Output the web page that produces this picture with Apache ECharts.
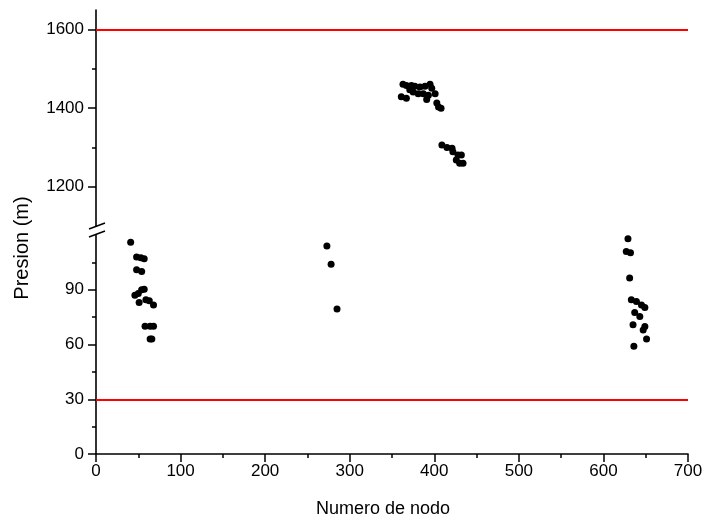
<!DOCTYPE html>
<html>
<head>
<meta charset="utf-8">
<script src="https://cdn.jsdelivr.net/npm/echarts@6/dist/echarts.min.js"></script>
<style>
  html, body { margin: 0; padding: 0; background: #fff; }
  #chart { width: 714px; height: 521px; }
</style>
</head>
<body>
<div id="chart"></div>
<script>
// Node pressures, high-pressure zone (upper panel): [node, pressure m]
const highNodes = [
  [363, 1461], [367, 1458], [373, 1458], [377, 1456], [383, 1454], [389, 1456],
  [395, 1461], [361, 1429], [367, 1425], [371, 1447], [375, 1441], [381, 1437],
  [387, 1437], [393, 1433], [397, 1451], [391, 1422], [401, 1437], [403, 1413],
  [405, 1403], [408, 1400],
  [409, 1306], [415, 1300], [421, 1298], [422, 1289], [428, 1281], [432, 1281],
  [426, 1268], [430, 1260], [434, 1260]
];

// Node pressures, low-pressure zone (lower panel): [node, pressure m]
const lowNodes = [
  [41, 116], [48, 108], [53, 107.5], [57, 107], [48, 101], [54, 100],
  [46, 87], [50, 88], [54, 90], [57, 90.3], [51, 83], [59, 84.5], [63, 84],
  [68, 81.7], [58, 70], [64, 70], [68, 70], [64, 63], [66, 63],
  [273, 114], [278, 104], [285, 79.5],
  [629, 118], [627, 111], [632, 110.3], [631, 96.5], [633, 84.5], [639, 83.5],
  [645, 81.7], [649, 80.3], [637, 77.5], [643, 75.3], [635, 70.8], [649, 69.8],
  [647, 68], [651, 63], [636, 59]
];

// Pressure limits
const maxPressure = 1600;
const minPressure = 30;

// Axis ranges and tick values
const xTicks = { min: 0, max: 700, step: 100 };
const upperRange = { min: 1100, max: 1650 };
const upperLabels = [1200, 1400, 1600];
const upperMinor = [1300, 1500];
const lowerRange = { min: 0, max: 120, step: 30 };
const lowerLabels = [0, 30, 60, 90];

const FONT = '"Liberation Sans", Arial, sans-serif';
const axisLine = { show: true, lineStyle: { color: '#000', width: 1.6 } };
const tickLine = { color: '#000', width: 1.5 };
const plain = (v) => String(v);
const labelStyle = { color: '#000', fontSize: 17, fontFamily: FONT, formatter: plain };

const chart = echarts.init(document.getElementById('chart'), null, { renderer: 'canvas' });

const limitLine = (value) => ({
  silent: true,
  symbol: 'none',
  label: { show: false },
  emphasis: { disabled: true },
  lineStyle: { color: '#ff0000', width: 2, type: 'solid' },
  data: [{ yAxis: value }]
});

chart.setOption({
  animation: false,
  backgroundColor: '#fff',
  grid: [
    { left: 96, right: 26, top: 10, height: 216 },
    { left: 96, right: 26, top: 235, bottom: 67 }
  ],
  xAxis: [
    { gridIndex: 0, type: 'value', min: xTicks.min, max: xTicks.max, interval: xTicks.step, show: false },
    {
      gridIndex: 1, type: 'value', min: xTicks.min, max: xTicks.max, interval: xTicks.step,
      axisLine: axisLine,
      axisTick: { show: true, length: 8, lineStyle: tickLine },
      minorTick: { show: true, splitNumber: 2, length: 4, lineStyle: tickLine },
      splitLine: { show: false },
      axisLabel: Object.assign({ margin: 9 }, labelStyle)
    }
  ],
  yAxis: [
    {
      gridIndex: 0, type: 'value', min: upperRange.min, max: upperRange.max, interval: 100,
      axisLine: axisLine,
      axisTick: { show: true, length: 8, customValues: upperLabels, lineStyle: tickLine },
      splitLine: { show: false },
      axisLabel: Object.assign({ margin: 12, customValues: upperLabels }, labelStyle)
    },
    {
      gridIndex: 0, type: 'value', min: upperRange.min, max: upperRange.max, interval: 100,
      position: 'left',
      axisLine: { show: false },
      axisTick: { show: true, length: 4, customValues: upperMinor, lineStyle: tickLine },
      splitLine: { show: false },
      axisLabel: { show: false }
    },
    {
      gridIndex: 1, type: 'value', min: lowerRange.min, max: lowerRange.max, interval: lowerRange.step,
      axisLine: axisLine,
      axisTick: { show: true, length: 8, customValues: lowerLabels, lineStyle: tickLine },
      minorTick: { show: true, splitNumber: 2, length: 4, lineStyle: tickLine },
      splitLine: { show: false },
      axisLabel: Object.assign({ margin: 12, customValues: lowerLabels }, labelStyle)
    }
  ],
  graphic: [
    // axis break marks
    { type: 'line', shape: { x1: 89, y1: 229, x2: 105, y2: 223 }, style: { stroke: '#000', lineWidth: 1.5 } },
    { type: 'line', shape: { x1: 89, y1: 237, x2: 105, y2: 231 }, style: { stroke: '#000', lineWidth: 1.5 } },
    // axis titles
    {
      type: 'text', x: 22, y: 248, rotation: Math.PI / 2,
      style: { text: 'Presion (m)', fill: '#000', font: '20px ' + FONT, align: 'center', verticalAlign: 'middle' }
    },
    {
      type: 'text', x: 383, y: 509,
      style: { text: 'Numero de nodo', fill: '#000', font: '18px ' + FONT, align: 'center', verticalAlign: 'middle' }
    }
  ],
  series: [
    {
      type: 'scatter', xAxisIndex: 0, yAxisIndex: 0,
      symbolSize: 7, itemStyle: { color: '#000', opacity: 1 },
      data: highNodes,
      markLine: limitLine(maxPressure)
    },
    {
      type: 'scatter', xAxisIndex: 1, yAxisIndex: 2,
      symbolSize: 7, itemStyle: { color: '#000', opacity: 1 },
      data: lowNodes,
      markLine: limitLine(minPressure)
    }
  ]
});
</script>
</body>
</html>
